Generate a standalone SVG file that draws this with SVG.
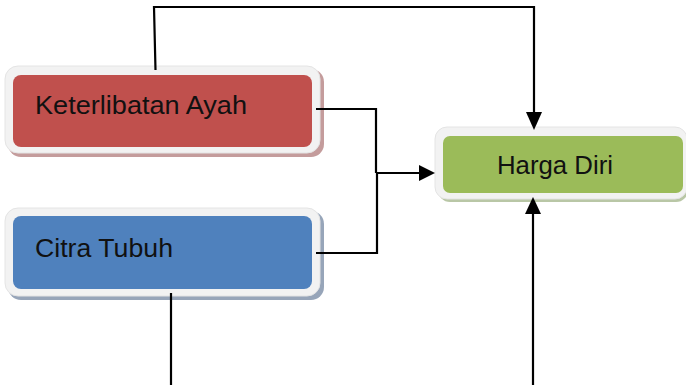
<svg xmlns="http://www.w3.org/2000/svg" width="686" height="385" viewBox="0 0 686 385">
<defs>
<style>
.frame{fill:#f2f2f2;stroke:#e4e4e4;stroke-width:1}
.lbl{font-family:"Liberation Sans",Arial,sans-serif;font-size:25px;fill:#111}
.conn{fill:none;stroke:#000;stroke-width:2.2}
.head{fill:#000}
</style>
</defs>
<rect width="686" height="385" fill="#fff"/>
<g id="keterlibatan-ayah">
<rect x="8" y="69" width="316" height="88" rx="13" fill="#c49c9c"/>
<rect class="frame" x="5" y="66" width="315" height="87" rx="13"/>
<rect x="13" y="75" width="299" height="72" rx="8" fill="#c0504d"/>
<text class="lbl" x="35" y="114" textLength="212" lengthAdjust="spacingAndGlyphs">Keterlibatan Ayah</text>
</g>
<g id="citra-tubuh">
<rect x="8" y="211" width="316" height="89" rx="13" fill="#97a5b9"/>
<rect class="frame" x="5" y="208" width="315" height="88" rx="13"/>
<rect x="13" y="216" width="299" height="73" rx="8" fill="#4f81bd"/>
<text class="lbl" x="35" y="257" textLength="138" lengthAdjust="spacingAndGlyphs">Citra Tubuh</text>
</g>
<g id="harga-diri">
<rect x="438" y="130" width="250" height="72" rx="12" fill="#b9c7a6"/>
<rect class="frame" x="435" y="127" width="252" height="72" rx="12"/>
<rect x="443" y="136" width="240" height="57" rx="7" fill="#9bbb59"/>
<text class="lbl" x="497" y="174" textLength="116" lengthAdjust="spacingAndGlyphs">Harga Diri</text>
</g>
<g id="connectors">
<path class="conn" d="M155.5,70 L154,7 L534,7 L534,112" />
<path class="head" d="M526,112 L542,112 L534,130 Z"/>
<path class="conn" d="M316,109 L376,109 L376,173 M316,253 L377,253 L377,173 L419,173"/>
<path class="head" d="M419,165 L435,173 L419,181 Z"/>
<path class="conn" d="M171,293 L171,386"/>
<path class="conn" d="M533,386 L533,214"/>
<path class="head" d="M525,214 L541,214 L533,197 Z"/>
</g>
</svg>
